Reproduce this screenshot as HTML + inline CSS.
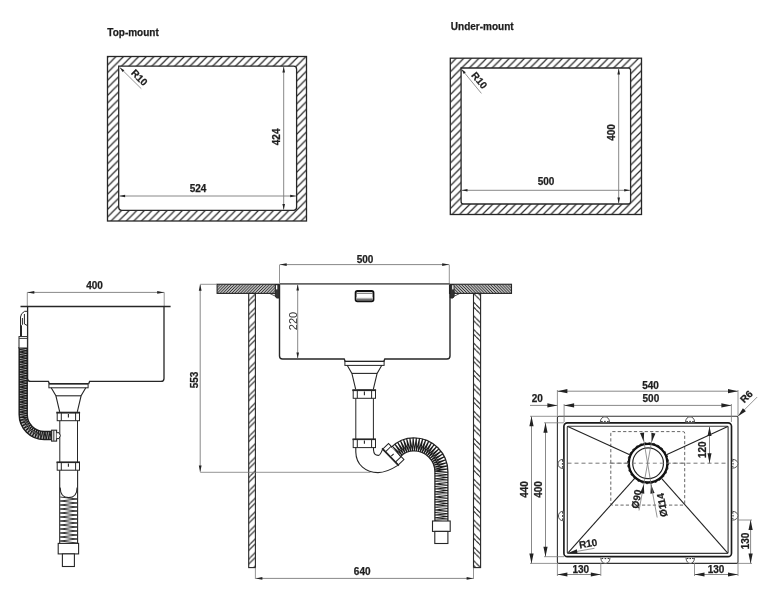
<!DOCTYPE html>
<html><head><meta charset="utf-8"><style>
html,body{margin:0;padding:0;background:#fff;width:768px;height:606px;overflow:hidden}
svg{display:block;will-change:transform}
text{font-family:"Liberation Sans",sans-serif;stroke:#1e1e1e;stroke-width:0.25px}
</style></head><body>
<svg width="768" height="606" viewBox="0 0 768 606">
<defs><pattern id="h8" patternUnits="userSpaceOnUse" x="5.3" width="7.6" height="7.6"><path d="M-2,2 L2,-2 M0,7.6 L7.6,0 M5.6,9.6 L9.6,5.6" stroke="#2a2a2a" stroke-width="1.2"/></pattern><pattern id="hf" patternUnits="userSpaceOnUse" width="2.9" height="2.9"><path d="M-0.725,0.725 L0.725,-0.725 M0,2.9 L2.9,0 M2.175,3.625 L3.625,2.175" stroke="#222" stroke-width="1.15"/></pattern><pattern id="hfb" patternUnits="userSpaceOnUse" width="2.9" height="2.9"><path d="M-0.725,2.175 L0.725,3.625 M0,0 L2.9,2.9 M2.175,-0.725 L3.625,0.725" stroke="#222" stroke-width="1.15"/></pattern><pattern id="hw" patternUnits="userSpaceOnUse" width="13.6" height="13.6"><path d="M5.45,0 L0,5.45 M10.35,0 L0,10.35 M13.6,5.45 L5.45,13.6 M13.6,10.35 L10.35,13.6" stroke="#2a2a2a" stroke-width="1.1" fill="none"/></pattern><pattern id="hwb" patternUnits="userSpaceOnUse" width="13.6" height="13.6"><path d="M8.15,0 L13.6,5.45 M3.25,0 L13.6,10.35 M0,5.45 L8.15,13.6 M0,10.35 L3.25,13.6" stroke="#2a2a2a" stroke-width="1.1" fill="none"/></pattern><linearGradient id="gslot" x1="0" y1="0" x2="0" y2="1"><stop offset="0" stop-color="#fff"/><stop offset="1" stop-color="#333"/></linearGradient></defs>
<rect width="768" height="606" fill="#fff"/>
<text x="107.30" y="36.10" font-size="10" font-weight="bold" text-anchor="start" fill="#1e1e1e" >Top-mount</text>
<path d="M107.5,56.5 H306.5 V221.0 H107.5 Z M118.7,66.2 V207.3 Q118.7,210.3 121.7,210.3 H293.6 Q296.6,210.3 296.6,207.3 V69.2 Q296.6,66.2 293.6,66.2 Z" stroke="none" stroke-width="0" fill="url(#h8)" fill-rule="evenodd"/>
<rect x="107.50" y="56.50" width="199.00" height="164.50" rx="0" stroke="#262626" stroke-width="1.3" fill="none" />
<path d="M118.7,66.2 V207.3 Q118.7,210.3 121.7,210.3 H293.6 Q296.6,210.3 296.6,207.3 V69.2 Q296.6,66.2 293.6,66.2 Z" stroke="#262626" stroke-width="1.3" fill="none" />
<line x1="119.30" y1="196.00" x2="296.00" y2="196.00" stroke="#7a7a7a" stroke-width="0.9" />
<polygon points="119.30,196.00 125.10,194.70 125.10,197.30" fill="#222"/>
<polygon points="296.00,196.00 290.20,197.30 290.20,194.70" fill="#222"/>
<text x="198.00" y="191.70" font-size="10" font-weight="bold" text-anchor="middle" fill="#1e1e1e" >524</text>
<line x1="283.70" y1="66.80" x2="283.70" y2="209.70" stroke="#7a7a7a" stroke-width="0.9" />
<polygon points="283.70,66.80 285.00,72.60 282.40,72.60" fill="#222"/>
<polygon points="283.70,209.70 282.40,203.90 285.00,203.90" fill="#222"/>
<text x="0" y="0" font-size="10" font-weight="bold" text-anchor="middle" fill="#1e1e1e"  transform="translate(276.30 136.90) rotate(-90) translate(0 3.58)">424</text>
<line x1="119.90" y1="67.60" x2="141.30" y2="88.70" stroke="#7a7a7a" stroke-width="0.8" />
<polygon points="119.90,67.60 124.37,70.18 122.55,72.04" fill="#222"/>
<text x="0" y="0" font-size="10" font-weight="bold" text-anchor="middle" fill="#1e1e1e"  transform="translate(139.50 77.50) rotate(45) translate(0 3.58)">R10</text>
<text x="450.80" y="29.50" font-size="10" font-weight="bold" text-anchor="start" fill="#1e1e1e" >Under-mount</text>
<path d="M450.3,58.2 H641.5 V214.5 H450.3 Z M461.1,68.0 V201.5 Q461.1,204.0 463.6,204.0 H628.1 Q630.6,204.0 630.6,201.5 V69.5 L629.1,68.0 Z" stroke="none" stroke-width="0" fill="url(#h8)" fill-rule="evenodd"/>
<rect x="450.30" y="58.20" width="191.20" height="156.30" rx="0" stroke="#262626" stroke-width="1.3" fill="none" />
<path d="M461.1,68.0 V201.5 Q461.1,204.0 463.6,204.0 H628.1 Q630.6,204.0 630.6,201.5 V69.5 L629.1,68.0 Z" stroke="#262626" stroke-width="1.3" fill="none" />
<line x1="461.70" y1="190.30" x2="630.00" y2="190.30" stroke="#7a7a7a" stroke-width="0.9" />
<polygon points="461.70,190.30 467.50,189.00 467.50,191.60" fill="#222"/>
<polygon points="630.00,190.30 624.20,191.60 624.20,189.00" fill="#222"/>
<text x="546.00" y="184.90" font-size="10" font-weight="bold" text-anchor="middle" fill="#1e1e1e" >500</text>
<line x1="618.70" y1="68.60" x2="618.70" y2="203.40" stroke="#7a7a7a" stroke-width="0.9" />
<polygon points="618.70,68.60 620.00,74.40 617.40,74.40" fill="#222"/>
<polygon points="618.70,203.40 617.40,197.60 620.00,197.60" fill="#222"/>
<text x="0" y="0" font-size="10" font-weight="bold" text-anchor="middle" fill="#1e1e1e"  transform="translate(611.70 132.50) rotate(-90) translate(0 3.58)">400</text>
<line x1="461.60" y1="69.30" x2="481.40" y2="93.40" stroke="#7a7a7a" stroke-width="0.8" />
<polygon points="461.60,69.30 465.78,72.34 463.77,73.99" fill="#222"/>
<text x="0" y="0" font-size="10" font-weight="bold" text-anchor="middle" fill="#1e1e1e"  transform="translate(479.40 80.20) rotate(50.6) translate(0 3.58)">R10</text>
<line x1="27.30" y1="292.40" x2="164.20" y2="292.40" stroke="#7a7a7a" stroke-width="0.9" />
<polygon points="27.30,292.40 34.30,291.00 34.30,293.80" fill="#222"/>
<polygon points="164.20,292.40 157.20,293.80 157.20,291.00" fill="#222"/>
<line x1="27.30" y1="292.40" x2="27.30" y2="306.00" stroke="#7a7a7a" stroke-width="0.8" />
<line x1="164.20" y1="292.40" x2="164.20" y2="306.00" stroke="#7a7a7a" stroke-width="0.8" />
<text x="94.60" y="288.60" font-size="10" font-weight="bold" text-anchor="middle" fill="#1e1e1e" >400</text>
<path d="M27.6,306.6 V378.4 Q27.6,381.4 30.6,381.4 H48.4 L49.6,384.0 M88.6,384.0 L89.6,381.4 H161 Q164,381.4 164,378.4 V306.6" stroke="#262626" stroke-width="1.3" fill="none" />
<line x1="20.50" y1="306.60" x2="170.60" y2="306.60" stroke="#262626" stroke-width="1.5" />
<line x1="59.80" y1="420.50" x2="59.80" y2="470.00" stroke="#262626" stroke-width="1.0" />
<line x1="77.50" y1="420.50" x2="77.50" y2="470.00" stroke="#262626" stroke-width="1.0" />
<rect x="48.90" y="383.80" width="39.20" height="4.00" rx="0" stroke="#262626" stroke-width="1.0" fill="#fff" />
<line x1="48.90" y1="383.80" x2="88.10" y2="383.80" stroke="#262626" stroke-width="1.4" />
<path d="M51.2,387.7 L55.9,395.79999999999995 L59.7,411.79999999999995" stroke="#262626" stroke-width="1.1" fill="none" />
<path d="M85.8,387.7 L81.1,395.79999999999995 L77.3,411.79999999999995" stroke="#262626" stroke-width="1.1" fill="none" />
<line x1="55.90" y1="395.80" x2="81.10" y2="395.80" stroke="#262626" stroke-width="1.1" />
<rect x="57.20" y="412.60" width="22.30" height="8.10" rx="0" stroke="#262626" stroke-width="1.0" fill="#fff" />
<line x1="56.30" y1="412.60" x2="80.10" y2="412.60" stroke="#262626" stroke-width="1.8" />
<line x1="61.30" y1="412.60" x2="75.60" y2="412.60" stroke="#262626" stroke-width="1.0" />
<line x1="61.30" y1="412.90" x2="61.30" y2="420.70" stroke="#262626" stroke-width="1.0" />
<line x1="75.60" y1="412.90" x2="75.60" y2="420.70" stroke="#262626" stroke-width="1.0" />
<line x1="68.40" y1="413.90" x2="68.40" y2="417.60" stroke="#262626" stroke-width="1.1" />
<rect x="57.20" y="462.30" width="22.30" height="7.90" rx="0" stroke="#262626" stroke-width="1.0" fill="#fff" />
<line x1="56.50" y1="462.30" x2="80.00" y2="462.30" stroke="#262626" stroke-width="1.6" />
<line x1="61.30" y1="462.30" x2="61.30" y2="470.20" stroke="#262626" stroke-width="1.0" />
<line x1="75.60" y1="462.30" x2="75.60" y2="470.20" stroke="#262626" stroke-width="1.0" />
<line x1="68.40" y1="463.60" x2="68.40" y2="466.80" stroke="#262626" stroke-width="1.1" />
<line x1="59.70" y1="470.20" x2="59.70" y2="543.40" stroke="#262626" stroke-width="1.1" />
<line x1="77.60" y1="470.20" x2="77.60" y2="543.40" stroke="#262626" stroke-width="1.1" />
<path d="M60.2,497.00 L77.1,499.00 L60.2,501.00 L77.1,503.00 L60.2,505.00 L77.1,507.00 L60.2,509.00 L77.1,511.00 L60.2,513.00 L77.1,515.00 L60.2,517.00 L77.1,519.00 L60.2,521.00 L77.1,523.00 L60.2,525.00 L77.1,527.00 L60.2,529.00 L77.1,531.00 L60.2,533.00 L77.1,535.00 L60.2,537.00 L77.1,539.00 L60.2,541.00 L77.1,543.00 " stroke="#2a2a2a" stroke-width="0.95" fill="none" />
<path d="M60.2,487.5 C60.2,494 63.5,497.6 68.65,497.6 C73.8,497.6 77.1,494 77.1,487.5" stroke="#262626" stroke-width="1.1" fill="#fff" />
<rect x="58.20" y="543.40" width="20.40" height="10.50" rx="0" stroke="#262626" stroke-width="1.1" fill="#fff" />
<rect x="62.40" y="553.90" width="12.00" height="12.60" rx="0" stroke="#262626" stroke-width="1.1" fill="#fff" />
<path d="M23.20,347.00 L23.20,414.50 M23.20,414.50 A21,21 0 0 0 44.20,435.50 M44.20,435.50 L51.80,435.50 " stroke="#222" stroke-width="9.5" fill="none" stroke-linecap="butt"/>
<path d="M23.20,347.00 L23.20,414.50 M23.20,414.50 A21,21 0 0 0 44.20,435.50 M44.20,435.50 L51.80,435.50 " stroke="#b0b0b0" stroke-width="6.5" fill="none" stroke-linecap="butt"/>
<path d="M19.20,347.00 L27.20,348.25 L19.20,349.50 L27.20,350.75 L19.20,352.00 L27.20,353.25 L19.20,354.50 L27.20,355.75 L19.20,357.00 L27.20,358.25 L19.20,359.50 L27.20,360.75 L19.20,362.00 L27.20,363.25 L19.20,364.50 L27.20,365.75 L19.20,367.00 L27.20,368.25 L19.20,369.50 L27.20,370.75 L19.20,372.00 L27.20,373.25 L19.20,374.50 L27.20,375.75 L19.20,377.00 L27.20,378.25 L19.20,379.50 L27.20,380.75 L19.20,382.00 L27.20,383.25 L19.20,384.50 L27.20,385.75 L19.20,387.00 L27.20,388.25 L19.20,389.50 L27.20,390.75 L19.20,392.00 L27.20,393.25 L19.20,394.50 L27.20,395.75 L19.20,397.00 L27.20,398.25 L19.20,399.50 L27.20,400.75 L19.20,402.00 L27.20,403.25 L19.20,404.50 L27.20,405.75 L19.20,407.00 L27.20,408.25 L19.20,409.50 L27.20,410.75 L19.20,412.00 L27.20,413.25 L19.20,414.50 L27.23,415.51 L19.38,417.47 L27.47,417.52 L19.91,420.40 L27.95,419.49 L20.78,423.24 L28.65,421.38 L21.98,425.96 L29.58,423.18 L23.50,428.52 L30.72,424.85 L25.31,430.88 L32.04,426.38 L27.39,433.00 L33.54,427.74 L29.71,434.87 L35.19,428.91 L32.23,436.45 L36.96,429.88 L34.92,437.71 L38.84,430.63 L37.74,438.65 L40.79,431.16 L40.66,439.25 L42.80,431.44 L43.62,439.49 L44.96,431.50 L46.21,439.50 L47.46,431.50 L48.71,439.50 L49.96,431.50 L51.21,439.50 " stroke="#1a1a1a" stroke-width="1.0" fill="none" stroke-linejoin="miter"/>
<rect x="51.60" y="430.20" width="5.00" height="10.90" rx="0" stroke="#262626" stroke-width="1.1" fill="#eee" />
<line x1="53.80" y1="430.50" x2="53.80" y2="440.80" stroke="#262626" stroke-width="0.9" />
<path d="M56.6,432.7 H59 Q61.7,435.6 59,438.6 H56.6" stroke="#262626" stroke-width="1.0" fill="#fff" />
<path d="M27.4,311.3 H24.6 Q20.6,313.5 20.5,317 V336.5 M22.4,318 V324.5 L21.5,325.5 V336.5 M24.4,314 V324 L27.3,325.5" stroke="#262626" stroke-width="1.0" fill="none" />
<rect x="19.00" y="336.60" width="8.40" height="11.40" rx="0" stroke="#262626" stroke-width="1.0" fill="#fff" />
<line x1="19.20" y1="338.50" x2="27.40" y2="338.50" stroke="#262626" stroke-width="0.8" />
<rect x="217.10" y="284.25" width="62.30" height="9.15" rx="0" stroke="#262626" stroke-width="1.1" fill="url(#hf)" />
<rect x="449.50" y="284.25" width="62.00" height="9.15" rx="0" stroke="#262626" stroke-width="1.1" fill="url(#hfb)" />
<rect x="248.70" y="293.40" width="6.70" height="274.20" rx="0" stroke="#262626" stroke-width="1.1" fill="url(#hw)" />
<rect x="473.50" y="293.40" width="7.10" height="274.20" rx="0" stroke="#262626" stroke-width="1.1" fill="url(#hwb)" />
<path d="M279.5,283.9 V356.0 Q279.5,359.0 282.5,359.0 H344.2 L345.2,361.4 M383.8,361.4 L384.8,359.0 H447 Q450,359.0 450,356.0 V283.9" stroke="#262626" stroke-width="1.4" fill="none" />
<line x1="279.50" y1="283.90" x2="450.00" y2="283.90" stroke="#666" stroke-width="1.6" />
<path d="M275.3,284.6 H279.2 V298 H276.5 L275.3,296 Z" stroke="#262626" stroke-width="1" fill="#333" />
<rect x="276.00" y="285.20" width="1.30" height="4.20" rx="0" stroke="none" stroke-width="0" fill="#fff" />
<path d="M270,293.6 L276,296.5" stroke="#262626" stroke-width="0.8" fill="none" />
<path d="M453.9,284.6 H450.3 V298 H453 L454.2,296 Z" stroke="#262626" stroke-width="1" fill="#333" />
<rect x="452.20" y="285.20" width="1.30" height="4.20" rx="0" stroke="none" stroke-width="0" fill="#fff" />
<path d="M459.5,293.6 L453.5,296.5" stroke="#262626" stroke-width="0.8" fill="none" />
<rect x="355.60" y="291.00" width="17.90" height="10.40" rx="1.8" stroke="#111" stroke-width="1.8" fill="#fff" />
<line x1="356.50" y1="293.30" x2="372.60" y2="293.30" stroke="#444" stroke-width="0.8" />
<rect x="356.5" y="297.2" width="16.1" height="3.3" fill="url(#gslot)"/>
<line x1="355.80" y1="398.30" x2="355.80" y2="439.30" stroke="#262626" stroke-width="1.0" />
<line x1="373.40" y1="398.30" x2="373.40" y2="439.30" stroke="#262626" stroke-width="1.0" />
<rect x="344.90" y="361.40" width="39.20" height="4.00" rx="0" stroke="#262626" stroke-width="1.0" fill="#fff" />
<line x1="344.90" y1="361.40" x2="384.10" y2="361.40" stroke="#262626" stroke-width="1.4" />
<path d="M347.2,365.3 L351.9,373.4 L355.7,389.4" stroke="#262626" stroke-width="1.1" fill="none" />
<path d="M381.8,365.3 L377.1,373.4 L373.3,389.4" stroke="#262626" stroke-width="1.1" fill="none" />
<line x1="351.90" y1="373.40" x2="377.10" y2="373.40" stroke="#262626" stroke-width="1.1" />
<rect x="353.20" y="390.20" width="22.30" height="8.10" rx="0" stroke="#262626" stroke-width="1.0" fill="#fff" />
<line x1="352.30" y1="390.20" x2="376.10" y2="390.20" stroke="#262626" stroke-width="1.8" />
<line x1="357.30" y1="390.20" x2="371.60" y2="390.20" stroke="#262626" stroke-width="1.0" />
<line x1="357.30" y1="390.50" x2="357.30" y2="398.30" stroke="#262626" stroke-width="1.0" />
<line x1="371.60" y1="390.50" x2="371.60" y2="398.30" stroke="#262626" stroke-width="1.0" />
<line x1="364.40" y1="391.50" x2="364.40" y2="395.20" stroke="#262626" stroke-width="1.1" />
<rect x="353.20" y="439.30" width="22.30" height="8.30" rx="0" stroke="#262626" stroke-width="1.0" fill="#fff" />
<line x1="352.50" y1="439.30" x2="376.00" y2="439.30" stroke="#262626" stroke-width="1.6" />
<line x1="357.30" y1="439.30" x2="357.30" y2="447.60" stroke="#262626" stroke-width="1.0" />
<line x1="371.60" y1="439.30" x2="371.60" y2="447.60" stroke="#262626" stroke-width="1.0" />
<line x1="364.40" y1="440.60" x2="364.40" y2="443.80" stroke="#262626" stroke-width="1.1" />
<path d="M355.8,447.6 V452 C356,465 366,472.6 378,472.6 C386,472.6 393,468.5 397.8,465.4" stroke="#262626" stroke-width="1.1" fill="none" />
<path d="M373.5,447.6 V450 C373.8,454 376,455.5 378.5,455.4 C380.5,455.3 381.5,451.5 382.6,449.2" stroke="#262626" stroke-width="1.1" fill="none" />
<g transform="translate(393.3 454.2) rotate(-134)"><rect x="-11.2" y="-4" width="22.2" height="8" fill="#fff" stroke="#262626" stroke-width="1.0"/><line x1="-12" y1="-4" x2="12" y2="-4" stroke="#262626" stroke-width="1.7"/><line x1="-7.2" y1="-4" x2="-7.2" y2="4" stroke="#262626" stroke-width="1.0"/><line x1="7.2" y1="-4" x2="7.2" y2="4" stroke="#262626" stroke-width="1.0"/><line x1="0" y1="-2.8" x2="0" y2="0.5" stroke="#262626" stroke-width="1.1"/></g>
<path d="M395.87,451.93 A25,25 0 0 1 413.85,444.30 M413.85,444.30 A27.55,27.55 0 0 1 441.40,471.85 M441.40,471.85 L441.40,521.00 " stroke="#2a2a2a" stroke-width="14.3" fill="none" stroke-linecap="butt"/>
<path d="M395.87,451.93 A25,25 0 0 1 413.85,444.30 M413.85,444.30 A27.55,27.55 0 0 1 441.40,471.85 M441.40,471.85 L441.40,521.00 " stroke="#fff" stroke-width="11.7" fill="none" stroke-linecap="butt"/>
<path d="M400.54,456.45 L392.36,446.27 L401.95,455.14 L394.87,444.16 L403.48,453.98 L397.58,442.33 L405.13,452.98 L400.47,440.78 L406.87,452.17 L403.50,439.55 L408.69,451.54 L406.64,438.64 L410.56,451.10 L409.86,438.05 L412.47,450.85 L413.13,437.81 L414.41,450.81 L416.36,437.89 L416.39,450.95 L419.54,438.28 L418.35,451.29 L422.68,438.97 L420.26,451.80 L425.74,439.94 L422.12,452.49 L428.70,441.21 L423.91,453.36 L431.52,442.74 L425.61,454.39 L434.18,444.54 L427.20,455.58 L436.66,446.57 L428.68,456.91 L438.95,448.84 L430.02,458.37 L441.00,451.30 L431.22,459.95 L442.82,453.95 L432.26,461.64 L444.37,456.76 L433.14,463.42 L445.66,459.71 L433.85,465.28 L446.66,462.76 L434.38,467.19 L447.37,465.89 L434.73,469.15 L447.79,469.08 L434.89,471.13 L447.90,472.20 L434.90,473.50 L447.90,474.80 L434.90,476.10 L447.90,477.40 L434.90,478.70 L447.90,480.00 L434.90,481.30 L447.90,482.60 L434.90,483.90 L447.90,485.20 L434.90,486.50 L447.90,487.80 L434.90,489.10 L447.90,490.40 L434.90,491.70 L447.90,493.00 L434.90,494.30 L447.90,495.60 L434.90,496.90 L447.90,498.20 L434.90,499.50 L447.90,500.80 L434.90,502.10 L447.90,503.40 L434.90,504.70 L447.90,506.00 L434.90,507.30 L447.90,508.60 L434.90,509.90 L447.90,511.20 L434.90,512.50 L447.90,513.80 L434.90,515.10 L447.90,516.40 L434.90,517.70 L447.90,519.00 L434.90,520.30 " stroke="#1a1a1a" stroke-width="1.05" fill="none" stroke-linejoin="miter"/>
<rect x="432.50" y="521.00" width="17.70" height="10.40" rx="0" stroke="#262626" stroke-width="1.1" fill="#fff" />
<rect x="434.80" y="531.40" width="13.10" height="12.10" rx="0" stroke="#262626" stroke-width="1.1" fill="#fff" />
<line x1="279.90" y1="264.60" x2="449.00" y2="264.60" stroke="#7a7a7a" stroke-width="0.9" />
<polygon points="279.90,264.60 286.70,263.20 286.70,266.00" fill="#222"/>
<polygon points="449.00,264.60 442.20,266.00 442.20,263.20" fill="#222"/>
<line x1="279.50" y1="264.60" x2="279.50" y2="283.00" stroke="#7a7a7a" stroke-width="0.8" />
<line x1="449.30" y1="264.60" x2="449.30" y2="283.00" stroke="#7a7a7a" stroke-width="0.8" />
<text x="365.00" y="262.60" font-size="10" font-weight="bold" text-anchor="middle" fill="#1e1e1e" >500</text>
<line x1="297.70" y1="284.60" x2="297.70" y2="358.20" stroke="#7a7a7a" stroke-width="0.9" />
<polygon points="297.70,284.60 299.00,290.40 296.40,290.40" fill="#222"/>
<polygon points="297.70,358.20 296.40,352.40 299.00,352.40" fill="#222"/>
<text x="0" y="0" font-size="11" font-weight="normal" text-anchor="middle" fill="#333" style="stroke:none" transform="translate(292.90 321.00) rotate(-90) translate(0 3.94)">220</text>
<line x1="200.20" y1="284.60" x2="200.20" y2="471.80" stroke="#7a7a7a" stroke-width="0.9" />
<polygon points="200.20,284.60 201.60,290.80 198.80,290.80" fill="#222"/>
<polygon points="200.20,471.80 198.80,465.60 201.60,465.60" fill="#222"/>
<line x1="200.20" y1="284.30" x2="217.00" y2="284.30" stroke="#7a7a7a" stroke-width="0.8" />
<line x1="200.20" y1="472.30" x2="370.50" y2="472.30" stroke="#7a7a7a" stroke-width="0.8" />
<text x="0" y="0" font-size="10" font-weight="bold" text-anchor="middle" fill="#1e1e1e"  transform="translate(194.10 380.00) rotate(-90) translate(0 3.58)">553</text>
<line x1="255.80" y1="578.40" x2="473.20" y2="578.40" stroke="#7a7a7a" stroke-width="0.9" />
<polygon points="255.80,578.40 262.40,577.00 262.40,579.80" fill="#222"/>
<polygon points="473.20,578.40 466.60,579.80 466.60,577.00" fill="#222"/>
<line x1="255.40" y1="567.60" x2="255.40" y2="579.00" stroke="#7a7a7a" stroke-width="0.8" />
<line x1="473.50" y1="567.60" x2="473.50" y2="579.00" stroke="#7a7a7a" stroke-width="0.8" />
<text x="362.20" y="574.80" font-size="10" font-weight="bold" text-anchor="middle" fill="#1e1e1e" >640</text>
<rect x="610.80" y="431.60" width="73.90" height="73.50" rx="1.5" stroke="#555" stroke-width="0.9" fill="none" stroke-dasharray="3.2 2.2"/>
<line x1="567.50" y1="463.20" x2="728.00" y2="463.20" stroke="#666" stroke-width="0.9" stroke-dasharray="4 3"/>
<rect x="557.40" y="416.30" width="180.60" height="147.10" rx="1.5" stroke="#333" stroke-width="1.1" fill="none" />
<rect x="563.90" y="422.80" width="167.60" height="133.90" rx="3.5" stroke="#1a1a1a" stroke-width="1.65" fill="none" />
<rect x="567.30" y="426.30" width="160.80" height="127.10" rx="0.8" stroke="#3a3a3a" stroke-width="1.1" fill="none" />
<line x1="567.80" y1="426.60" x2="629.72" y2="454.82" stroke="#222" stroke-width="1.1" />
<line x1="727.80" y1="426.60" x2="666.46" y2="454.77" stroke="#222" stroke-width="1.1" />
<line x1="567.80" y1="553.10" x2="634.64" y2="478.27" stroke="#222" stroke-width="1.1" />
<line x1="727.80" y1="553.10" x2="661.50" y2="478.32" stroke="#222" stroke-width="1.1" />
<circle cx="648.1" cy="463.2" r="19.3" fill="#fff" stroke="#111" stroke-width="2.3"/>
<circle cx="648.1" cy="463.2" r="20.5" fill="none" stroke="#111" stroke-width="0.9" stroke-dasharray="2 2.6"/>
<circle cx="648.1" cy="463.2" r="15.4" fill="none" stroke="#222" stroke-width="1.2"/>
<line x1="610.80" y1="463.20" x2="684.70" y2="463.20" stroke="#777" stroke-width="0.9" stroke-dasharray="4 3"/>
<path d="M600.3,422.2 C600.3,415.0 609.5,415.0 609.5,422.2" stroke="#555" stroke-width="1.0" fill="#fff" />
<path d="M601.0999999999999,421.59999999999997 h1.6 M604.1,421.4 h1.6 M607.1,421.59999999999997 h1.6" stroke="#222" stroke-width="1.0" fill="none" />
<path d="M685.5,422.2 C685.5,415.0 694.6,415.0 694.6,422.2" stroke="#555" stroke-width="1.0" fill="#fff" />
<path d="M686.3,421.59999999999997 h1.6 M689.25,421.4 h1.6 M692.2,421.59999999999997 h1.6" stroke="#222" stroke-width="1.0" fill="none" />
<path d="M600.8,557.8 C600.8,565.2 610.0,565.2 610.0,557.8" stroke="#555" stroke-width="1.0" fill="#fff" />
<path d="M601.5999999999999,558.4 h1.6 M604.6,558.5999999999999 h1.6 M607.6,558.4 h1.6" stroke="#222" stroke-width="1.0" fill="none" />
<path d="M686.0,557.8 C686.0,565.2 694.5,565.2 694.5,557.8" stroke="#555" stroke-width="1.0" fill="#fff" />
<path d="M686.8,558.4 h1.6 M689.45,558.5999999999999 h1.6 M692.1,558.4 h1.6" stroke="#222" stroke-width="1.0" fill="none" />
<path d="M563.2,459.3 C556.3,459.3 556.3,468.5 563.2,468.5" stroke="#555" stroke-width="1.0" fill="#fff" />
<path d="M562.6,460.1 v1.6 M562.4000000000001,463.09999999999997 v1.6 M562.6,466.1 v1.6" stroke="#222" stroke-width="1.0" fill="none" />
<path d="M563.3,511.2 C556.8,511.2 556.8,520.8 563.3,520.8" stroke="#555" stroke-width="1.0" fill="#fff" />
<path d="M562.6999999999999,512.0 v1.6 M562.5,515.2 v1.6 M562.6999999999999,518.4 v1.6" stroke="#222" stroke-width="1.0" fill="none" />
<path d="M732.2,459.3 C739.8000000000001,459.3 739.8000000000001,468.2 732.2,468.2" stroke="#555" stroke-width="1.0" fill="#fff" />
<path d="M732.8000000000001,460.1 v1.6 M733.0,462.95 v1.6 M732.8000000000001,465.8 v1.6" stroke="#222" stroke-width="1.0" fill="none" />
<path d="M732.2,511.3 C739.8000000000001,511.3 739.8000000000001,520.2 732.2,520.2" stroke="#555" stroke-width="1.0" fill="#fff" />
<path d="M732.8000000000001,512.1 v1.6 M733.0,514.95 v1.6 M732.8000000000001,517.8000000000001 v1.6" stroke="#222" stroke-width="1.0" fill="none" />
<line x1="557.40" y1="391.20" x2="738.00" y2="391.20" stroke="#7a7a7a" stroke-width="0.9" />
<polygon points="557.40,391.20 567.40,389.10 567.40,393.30" fill="#222"/>
<polygon points="738.00,391.20 728.00,393.30 728.00,389.10" fill="#222"/>
<line x1="557.40" y1="390.00" x2="557.40" y2="416.00" stroke="#7a7a7a" stroke-width="0.8" />
<line x1="738.00" y1="390.00" x2="738.00" y2="416.00" stroke="#7a7a7a" stroke-width="0.8" />
<text x="650.50" y="389.00" font-size="10" font-weight="bold" text-anchor="middle" fill="#1e1e1e" >540</text>
<line x1="564.10" y1="405.40" x2="731.40" y2="405.40" stroke="#7a7a7a" stroke-width="0.9" />
<polygon points="564.10,405.40 574.10,403.30 574.10,407.50" fill="#222"/>
<polygon points="731.40,405.40 721.40,407.50 721.40,403.30" fill="#222"/>
<line x1="530.00" y1="405.40" x2="557.40" y2="405.40" stroke="#7a7a7a" stroke-width="0.9" />
<polygon points="557.40,405.40 547.40,407.50 547.40,403.30" fill="#222"/>
<line x1="564.10" y1="404.00" x2="564.10" y2="422.00" stroke="#7a7a7a" stroke-width="0.8" />
<line x1="731.40" y1="404.00" x2="731.40" y2="422.00" stroke="#7a7a7a" stroke-width="0.8" />
<text x="650.90" y="402.00" font-size="10" font-weight="bold" text-anchor="middle" fill="#1e1e1e" >500</text>
<text x="537.20" y="401.80" font-size="10" font-weight="bold" text-anchor="middle" fill="#1e1e1e" >20</text>
<line x1="531.50" y1="416.30" x2="531.50" y2="563.40" stroke="#7a7a7a" stroke-width="0.9" />
<polygon points="531.50,416.30 533.60,426.30 529.40,426.30" fill="#222"/>
<polygon points="531.50,563.40 529.40,553.40 533.60,553.40" fill="#222"/>
<line x1="530.00" y1="416.30" x2="557.00" y2="416.30" stroke="#7a7a7a" stroke-width="0.8" />
<line x1="530.00" y1="563.40" x2="557.00" y2="563.40" stroke="#7a7a7a" stroke-width="0.8" />
<text x="0" y="0" font-size="10" font-weight="bold" text-anchor="middle" fill="#1e1e1e"  transform="translate(524.90 489.50) rotate(-90) translate(0 3.58)">440</text>
<line x1="545.50" y1="422.80" x2="545.50" y2="556.70" stroke="#7a7a7a" stroke-width="0.9" />
<polygon points="545.50,422.80 547.60,432.80 543.40,432.80" fill="#222"/>
<polygon points="545.50,556.70 543.40,546.70 547.60,546.70" fill="#222"/>
<line x1="544.00" y1="422.80" x2="564.00" y2="422.80" stroke="#7a7a7a" stroke-width="0.8" />
<line x1="544.00" y1="556.70" x2="564.00" y2="556.70" stroke="#7a7a7a" stroke-width="0.8" />
<text x="0" y="0" font-size="10" font-weight="bold" text-anchor="middle" fill="#1e1e1e"  transform="translate(538.60 489.50) rotate(-90) translate(0 3.58)">400</text>
<line x1="557.40" y1="574.50" x2="600.80" y2="574.50" stroke="#7a7a7a" stroke-width="0.9" />
<polygon points="557.40,574.50 567.40,572.40 567.40,576.60" fill="#222"/>
<polygon points="600.80,574.50 590.80,576.60 590.80,572.40" fill="#222"/>
<line x1="557.40" y1="563.00" x2="557.40" y2="576.00" stroke="#7a7a7a" stroke-width="0.8" />
<line x1="600.80" y1="563.00" x2="600.80" y2="576.00" stroke="#7a7a7a" stroke-width="0.8" />
<text x="580.80" y="573.20" font-size="10" font-weight="bold" text-anchor="middle" fill="#1e1e1e" >130</text>
<line x1="694.50" y1="574.50" x2="738.00" y2="574.50" stroke="#7a7a7a" stroke-width="0.9" />
<polygon points="694.50,574.50 704.50,572.40 704.50,576.60" fill="#222"/>
<polygon points="738.00,574.50 728.00,576.60 728.00,572.40" fill="#222"/>
<line x1="694.50" y1="563.00" x2="694.50" y2="576.00" stroke="#7a7a7a" stroke-width="0.8" />
<line x1="738.00" y1="563.00" x2="738.00" y2="576.00" stroke="#7a7a7a" stroke-width="0.8" />
<text x="716.00" y="573.20" font-size="10" font-weight="bold" text-anchor="middle" fill="#1e1e1e" >130</text>
<line x1="750.60" y1="520.00" x2="750.60" y2="563.40" stroke="#7a7a7a" stroke-width="0.9" />
<polygon points="750.60,520.00 752.70,530.00 748.50,530.00" fill="#222"/>
<polygon points="750.60,563.40 748.50,553.40 752.70,553.40" fill="#222"/>
<line x1="738.00" y1="520.00" x2="752.00" y2="520.00" stroke="#7a7a7a" stroke-width="0.8" />
<line x1="738.00" y1="563.40" x2="752.00" y2="563.40" stroke="#7a7a7a" stroke-width="0.8" />
<text x="0" y="0" font-size="10" font-weight="bold" text-anchor="middle" fill="#1e1e1e"  transform="translate(745.30 541.00) rotate(-90) translate(0 3.58)">130</text>
<line x1="709.50" y1="426.40" x2="709.50" y2="463.20" stroke="#7a7a7a" stroke-width="0.9" />
<polygon points="709.50,426.40 711.50,435.90 707.50,435.90" fill="#222"/>
<polygon points="709.50,463.20 707.50,453.20 711.50,453.20" fill="#222"/>
<text x="0" y="0" font-size="10" font-weight="bold" text-anchor="middle" fill="#1e1e1e"  transform="translate(702.90 449.70) rotate(-90) translate(0 3.58)">120</text>
<line x1="738.00" y1="416.20" x2="757.20" y2="397.00" stroke="#7a7a7a" stroke-width="0.8" />
<polygon points="738.00,416.20 742.88,408.35 745.85,411.32" fill="#222"/>
<text x="0" y="0" font-size="10" font-weight="bold" text-anchor="middle" fill="#1e1e1e"  transform="translate(746.30 396.50) rotate(-45) translate(0 3.58)">R6</text>
<line x1="568.30" y1="552.90" x2="594.50" y2="548.30" stroke="#7a7a7a" stroke-width="0.8" />
<polygon points="568.30,552.90 576.80,549.28 577.53,553.41" fill="#222"/>
<text x="0" y="0" font-size="10" font-weight="bold" text-anchor="middle" fill="#1e1e1e"  transform="translate(588.10 543.50) rotate(-10) translate(0 3.58)">R10</text>
<line x1="642.60" y1="433.50" x2="651.80" y2="488.50" stroke="#7a7a7a" stroke-width="0.8" />
<polygon points="643.60,441.60 640.05,433.07 644.19,432.38" fill="#222"/>
<polygon points="651.00,484.50 654.55,493.03 650.41,493.72" fill="#222"/>
<line x1="652.90" y1="434.50" x2="639.00" y2="510.50" stroke="#7a7a7a" stroke-width="0.8" />
<polygon points="651.80,442.00 651.33,432.77 655.46,433.51" fill="#222"/>
<polygon points="643.80,484.50 644.27,493.73 640.14,492.99" fill="#222"/>
<line x1="651.00" y1="484.50" x2="657.20" y2="517.50" stroke="#7a7a7a" stroke-width="0.8" />
<text x="0" y="0" font-size="10" font-weight="bold" text-anchor="middle" fill="#1e1e1e"  transform="translate(636.40 499.00) rotate(-80) translate(0 3.58)">Ø90</text>
<text x="0" y="0" font-size="10" font-weight="bold" text-anchor="middle" fill="#1e1e1e"  transform="translate(662.00 505.10) rotate(-100) translate(0 3.58)">Ø114</text>
</svg></body></html>
